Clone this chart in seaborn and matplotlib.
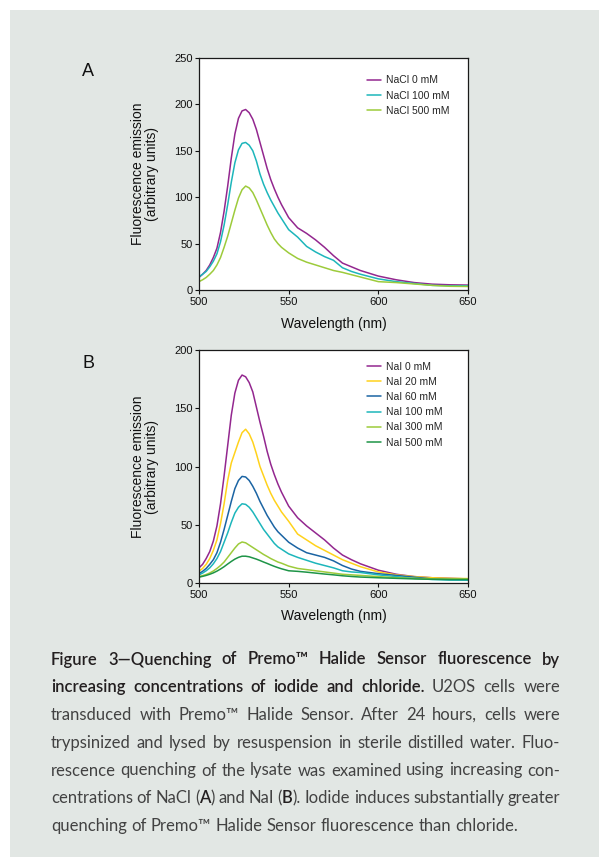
import matplotlib
matplotlib.use("Agg")
import matplotlib.pyplot as plt
import seaborn as sns
import pandas as pd
from matplotlib.patches import Rectangle
from matplotlib import font_manager

# ---------------- data ----------------
wavelength = [500, 502, 504, 506, 508, 510, 512, 514, 516, 518, 520, 522, 524, 526, 528,
              530, 532, 534, 536, 538, 540, 542, 544, 546, 550, 555, 560, 565, 570, 575,
              580, 585, 590, 600, 610, 620, 630, 640, 650]

nacl_0 = [13.6, 17, 21, 27, 35, 45, 62, 85, 112, 142, 168, 185, 193, 194.5, 191, 184,
          173, 159, 145, 131, 119, 109, 100, 92, 78, 67, 61, 54, 46, 37, 29, 25, 21, 15,
          11, 8, 6.3, 5.6, 5.3]
nacl_100 = [14, 17, 20, 25, 31, 39, 52, 70, 92, 116, 137, 151, 158, 159, 156, 150, 139,
            125, 114, 105, 97, 90, 83, 77, 65, 57, 47, 41, 36, 32, 24, 20, 17, 12, 9, 7,
            5, 4.5, 4.5]
nacl_500 = [9, 11, 13.5, 17, 21, 27, 35, 46, 58, 72, 86, 99, 108, 112, 110, 105, 97, 88,
            79, 70, 62, 55, 50, 46, 40, 34, 30, 27, 24, 21, 19, 16.5, 14, 9, 8, 6.5, 5,
            4, 3.8]
labels_a = ["NaCl 0 mM", "NaCl 100 mM", "NaCl 500 mM"]

nai_0 = [13, 16, 21, 27, 36, 49, 68, 92, 118, 144, 163, 174, 178.5, 177, 172, 164, 151,
         138, 126, 113, 102, 93, 85, 78, 66, 56, 49, 43, 37, 30, 24, 20, 16.5, 11, 7.5,
         5.5, 4.5, 4, 3.5]
nai_20 = [10, 12.5, 16, 21, 28, 37, 51, 68, 88, 103, 112, 121, 129, 132, 128, 121, 111,
          100, 92, 84, 77, 71, 66, 61, 53, 42, 37, 32, 28, 24, 20, 17, 14, 9.5, 7, 5.5,
          4.5, 4, 3.8]
nai_60 = [8, 10, 12.5, 16, 20, 26, 35, 46, 58, 70, 81, 88, 91.5, 91, 88, 83, 77, 70, 64,
          58, 53, 48, 44, 41, 35, 30, 26, 24, 22, 19, 15, 12, 10, 8, 6.5, 5, 3.5, 3, 2.5]
nai_100 = [7, 8.5, 10.5, 13, 16.5, 21, 27, 35, 43, 52, 60, 65, 68, 67.5, 65, 61, 56, 51,
           46, 42, 38, 34, 31, 29, 25, 22, 19.5, 17, 15, 13, 10.5, 9.5, 9, 7, 5.5, 4, 3,
           2.5, 2.5]
nai_300 = [5.5, 6.3, 7.3, 8.6, 10.3, 12.5, 15, 18, 22, 26, 30, 33.5, 35.2, 34.5, 32.5,
           30.5, 28.5, 26.5, 24.5, 22.8, 21, 19.5, 18, 17, 14.5, 12.5, 11.5, 10.5, 9.5,
           8.5, 7.5, 7, 6.5, 5.5, 4.5, 4, 3.5, 3.5, 3.5]
nai_500 = [5, 5.7, 6.5, 7.5, 8.7, 10.2, 12, 14, 16.3, 18.5, 20.5, 22, 23, 23, 22.5, 21.5,
           20.5, 19.3, 18, 16.8, 15.5, 14.3, 13.2, 12.2, 10.5, 10, 9.3, 8.5, 7.7, 7, 6.2,
           5.6, 5.1, 4.5, 4, 3.5, 3.2, 3, 3]
labels_b = ["NaI 0 mM", "NaI 20 mM", "NaI 60 mM", "NaI 100 mM", "NaI 300 mM", "NaI 500 mM"]

colors_a = ["#93278f", "#1db6bb", "#9dcb3b"]
colors_b = ["#93278f", "#ffd21c", "#1b64a3", "#1db6bb", "#9dcb3b", "#1e9447"]

xticks = [500, 550, 600, 650]
yticks_a = [0, 50, 100, 150, 200, 250]
yticks_b = [0, 50, 100, 150, 200]

caption = [
    "*Figure 3—Quenching of Premo™ Halide Sensor fluorescence by*",
    "*increasing concentrations of iodide and chloride.* U2OS cells were",
    "transduced with Premo™ Halide Sensor. After 24 hours, cells were",
    "trypsinized and lysed by resuspension in sterile distilled water. Fluo-",
    "rescence quenching of the lysate was examined using increasing con-",
    "centrations of NaCl (*A*) and NaI (*B*). Iodide induces substantially greater",
    "quenching of Premo™ Halide Sensor fluorescence than chloride.",
]

# ---------------- style ----------------
sns.set_theme(style="white")
plt.rcParams["font.family"] = ["Liberation Sans", "DejaVu Sans"]

W, H = 599, 865
fig = plt.figure(figsize=(W / 100, H / 100), dpi=100)
fig.patch.set_facecolor("white")
fig.patches.append(Rectangle((10 / W, 1 - 857 / H), (W - 10) / W, 847 / H,
                             transform=fig.transFigure, facecolor="#e2e7e4",
                             edgecolor="none", zorder=-10))


def px_axes(l, t, r, b):
    return fig.add_axes([l / W, 1 - b / H, (r - l) / W, (b - t) / H])


def draw_panel(ax, wl, series, labels, colors, yticks, ymax, leg_y, xlab_y):
    frames = []
    for lab, vals in zip(labels, series):
        frames.append(pd.DataFrame({"wl": wl, "val": vals, "series": lab}))
    df = pd.concat(frames, ignore_index=True)
    sns.lineplot(data=df, x="wl", y="val", hue="series", hue_order=labels,
                 palette=dict(zip(labels, colors)), linewidth=1.1, ax=ax,
                 legend="auto")
    for ln in ax.get_lines():
        ln.set_solid_joinstyle("round")
    ax.set_facecolor("white")
    ax.set_xlim(500, 650)
    ax.set_ylim(0, ymax)
    ax.set_xticks(xticks)
    ax.set_yticks(yticks)
    ax.tick_params(axis="both", direction="out", length=3, width=0.8,
                   labelsize=8, colors="#111111", left=True, bottom=True)
    ax.tick_params(axis="y", pad=1.5)
    ax.tick_params(axis="x", pad=2)
    for s in ax.spines.values():
        s.set_color("#1a1a1a")
        s.set_linewidth(0.9)
    ax.set_xlabel("Wavelength (nm)", fontsize=10, color="#111111")
    ax.set_ylabel("Fluorescence emission\n(arbitrary units)", fontsize=10,
                  color="#111111", linespacing=1.0)
    ax.xaxis.set_label_coords(0.5, xlab_y)
    ax.yaxis.set_label_coords(-0.15, 0.5)
    handles, labs = ax.get_legend_handles_labels()
    for h in handles:
        h.set_linewidth(1.1)
    ax.legend(handles, labs, loc="upper left", bbox_to_anchor=(0.6245, leg_y),
              frameon=False, fontsize=7.5, handlelength=1.3, handletextpad=0.5,
              labelspacing=0.5, borderpad=0, borderaxespad=0)


ax_a = px_axes(199, 58, 468, 290)
draw_panel(ax_a, wavelength, [nacl_0, nacl_100, nacl_500], labels_a, colors_a,
           yticks_a, 250, 0.925, -0.118)
ax_b = px_axes(199, 350, 468, 583)
draw_panel(ax_b, wavelength, [nai_0, nai_20, nai_60, nai_100, nai_300, nai_500],
           labels_b, colors_b, yticks_b, 200, 0.95, -0.112)

fig.text(88 / W, 1 - 72 / H, "A", fontsize=13, ha="center", va="center", color="#111111")
fig.text(88 / W, 1 - 364 / H, "B", fontsize=13, ha="center", va="center", color="#111111")

# ---------------- caption (justified) ----------------
renderer = fig.canvas.get_renderer()


def have(fam):
    try:
        font_manager.findfont(font_manager.FontProperties(family=fam),
                              fallback_to_default=False)
        return True
    except Exception:
        return False


cap_main = "Lato" if have("Lato") else "Open Sans"
cap_family = [cap_main, "DejaVu Sans"]
bold_col, reg_col = "#231f20", "#424242"
BOLD_W = "semibold"


def parse(line):
    words, cur, bold = [], [], False
    seg = ""
    for ch in line:
        if ch == "*":
            if seg:
                cur.append((seg, bold))
                seg = ""
            bold = not bold
        elif ch == " ":
            if seg:
                cur.append((seg, bold))
                seg = ""
            if cur:
                words.append(cur)
                cur = []
        else:
            seg += ch
    if seg:
        cur.append((seg, bold))
    if cur:
        words.append(cur)
    return words


def seg_width(text, bold, size):
    t = fig.text(0, 0, text, fontsize=size, family=cap_family,
                 fontweight=BOLD_W if bold else "normal")
    w = t.get_window_extent(renderer).width
    t.remove()
    return w


parsed = [parse(l) for l in caption]
left_px, right_px = 51, 560


def tight_width(words, size):
    sp = seg_width("a a", False, size) - seg_width("aa", False, size)
    tot = sum(seg_width(s, b, size) for w in words for s, b in w)
    return tot + 0.6 * sp * (len(words) - 1)


base = 11.0
maxw = max(tight_width(w, base) for w in parsed[:-1])
cap_size = min(12.0, base * (right_px - left_px) / maxw)
space_w = seg_width("a a", False, cap_size) - seg_width("aa", False, cap_size)

baseline0, step = 664.5, 27.75
for i, words in enumerate(parsed):
    widths = [[seg_width(s, b, cap_size) for s, b in w] for w in words]
    wsum = sum(sum(ws) for ws in widths)
    if i < len(parsed) - 1 and len(words) > 1:
        gap = (right_px - left_px - wsum) / (len(words) - 1)
    else:
        gap = space_w
    x = left_px
    y = baseline0 + i * step
    for w, ws in zip(words, widths):
        for (s, b), sw in zip(w, ws):
            fig.text(x / W, 1 - y / H, s, fontsize=cap_size, family=cap_family,
                     fontweight=BOLD_W if b else "normal",
                     color=bold_col if b else reg_col, va="baseline", ha="left")
            x += sw
        x += gap

fig.savefig("out.png", dpi=100, facecolor=fig.get_facecolor())
